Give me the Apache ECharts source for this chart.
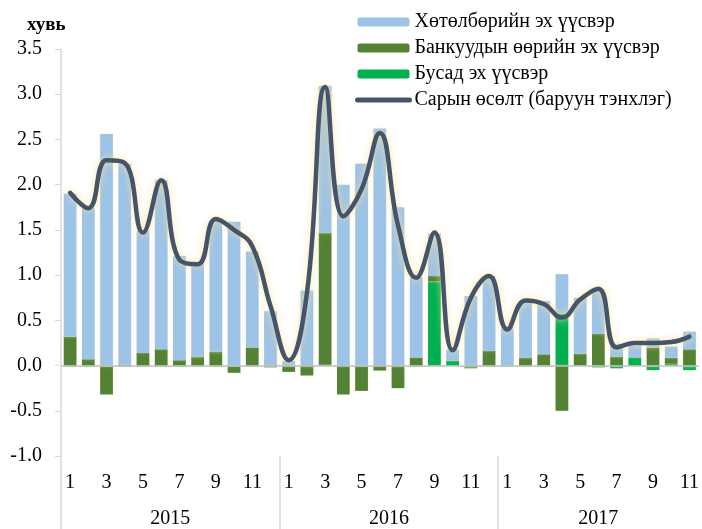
<!DOCTYPE html>
<html style="height: 100%">
<head>
<meta charset="utf-8">
<script src="https://cdn.jsdelivr.net/npm/echarts@6/dist/echarts.min.js"></script>
</head>
<body style="height: 100%; margin: 0; background: #fff">
<div id="container" style="width: 702px; height: 529px;"></div>
<script type="text/javascript">
// categories
var years = ['2015', '2016', '2017'];
var monthsPerYear = [12, 12, 11];

// series values (stack order: other, banks, program)
var otherSrc = [
  -0.01, -0.01, -0.01, -0.01, -0.01, -0.01, -0.01, -0.01, -0.01, -0.01, -0.01, -0.01,
  0, 0, 0.01, 0, -0.01, 0, 0, -0.01, 0.93, 0.055, -0.02, -0.01,
  -0.01, -0.01, -0.01, 0.57, 0, -0.02, -0.03, 0.09, -0.05, 0.02, -0.05
];
var bankSrc = [
  0.32, 0.07, -0.31, 0.01, 0.14, 0.18, 0.06, 0.10, 0.155, -0.07, 0.20, -0.01,
  -0.07, -0.11, 1.46, -0.32, -0.27, -0.055, -0.25, 0.09, 0.06, 0, -0.01, 0.16,
  0, 0.085, 0.125, -0.50, 0.13, 0.35, 0.10, 0, 0.20, 0.065, 0.18
];
var programSrc = [
  1.58, 1.67, 2.56, 2.22, 1.35, 1.87, 1.15, 1.04, 1.45, 1.59, 1.06, 0.60,
  0.05, 0.83, 1.62, 2.00, 2.23, 2.62, 1.75, 0.89, 0.47, 0.12, 0.77, 0.83,
  0.41, 0.63, 0.59, 0.44, 0.62, 0.49, 0.14, 0.13, 0.10, 0.125, 0.195
];
var monthlyGrowth = [
  1.91, 1.74, 2.27, 2.24, 1.47, 2.05, 1.17, 1.12, 1.62, 1.50, 1.32, 0.66,
  0.06, 0.80, 3.08, 1.65, 1.95, 2.57, 1.55, 0.97, 1.47, 0.17, 0.75, 0.99,
  0.40, 0.72, 0.68, 0.53, 0.73, 0.85, 0.20, 0.25, 0.25, 0.26, 0.32
];
var yTicks = { min: -1, max: 3.5, step: 0.5 };

var names = [
  'Хөтөлбөрийн эх үүсвэр',
  'Банкуудын өөрийн эх үүсвэр',
  'Бусад эх үүсвэр',
  'Сарын өсөлт (баруун тэнхлэг)'
];

var months = [];
var sepValues = [];
var yearCenters = [];
var acc = 0;
for (var y = 0; y < years.length; y++) {
  sepValues.push(acc);
  yearCenters.push(acc + monthsPerYear[y] / 2);
  for (var m = 1; m <= monthsPerYear[y]; m++) {
    months.push(String(m));
  }
  acc += monthsPerYear[y];
}

var font = 'Liberation Serif, Times New Roman, serif';
var chart = echarts.init(document.getElementById('container'));

var barGlow = { shadowColor: 'rgba(255, 236, 190, 0.7)', shadowBlur: 3 };

var option = {
  animation: false,
  title: {
    text: 'хувь',
    left: 22,
    top: 11,
    textStyle: { fontFamily: font, fontSize: 19, fontWeight: 'bold', color: '#000' }
  },
  legend: {
    orient: 'vertical',
    left: 350,
    top: 7,
    itemWidth: 52,
    itemHeight: 9,
    itemGap: 6,
    data: [
      names[0],
      names[1],
      names[2],
      {
        name: names[3],
        itemStyle: { opacity: 0 },
        lineStyle: { width: 5, color: '#44546a', cap: 'round' }
      }
    ],
    textStyle: { fontFamily: font, fontSize: 20, color: '#000' }
  },
  grid: { left: 61, right: -2, top: 49, bottom: 73 },
  xAxis: [
    {
      type: 'category',
      data: months,
      position: 'bottom',
      axisLine: { show: false },
      axisTick: { show: false },
      axisLabel: {
        interval: 1,
        margin: 17,
        fontFamily: font,
        fontSize: 20,
        color: '#000'
      }
    },
    {
      type: 'value',
      min: 0,
      max: months.length,
      position: 'bottom',
      axisLine: { show: false },
      splitLine: { show: false },
      axisTick: {
        show: true,
        customValues: sepValues,
        length: 73,
        lineStyle: { color: '#d9d9d9', width: 1.5 }
      },
      axisLabel: {
        customValues: yearCenters,
        margin: 53,
        fontFamily: font,
        fontSize: 20,
        color: '#000',
        formatter: function (v) {
          var i = yearCenters.indexOf(v);
          return i >= 0 ? years[i] : '';
        }
      }
    }
  ],
  yAxis: {
    type: 'value',
    min: yTicks.min,
    max: yTicks.max,
    interval: yTicks.step,
    axisLine: { show: true, lineStyle: { color: '#d9d9d9', width: 1.5 } },
    axisTick: { show: true, length: 6, lineStyle: { color: '#d9d9d9' } },
    splitLine: { show: false },
    axisLabel: {
      margin: 19,
      fontFamily: font,
      fontSize: 20,
      color: '#000',
      formatter: function (v) { return v.toFixed(1); }
    }
  },
  series: [
    {
      name: names[2],
      type: 'bar',
      stack: 'src',
      barCategoryGap: '30%',
      itemStyle: Object.assign({ color: '#00b050' }, barGlow),
      data: otherSrc
    },
    {
      name: names[1],
      type: 'bar',
      stack: 'src',
      itemStyle: Object.assign({ color: '#548235' }, barGlow),
      data: bankSrc
    },
    {
      name: names[0],
      type: 'bar',
      stack: 'src',
      itemStyle: Object.assign({ color: '#9dc3e6' }, barGlow),
      data: programSrc,
      markLine: {
        silent: true,
        symbol: 'none',
        label: { show: false },
        lineStyle: { color: '#bfbfbf', type: 'solid', width: 1.5 },
        data: [{ yAxis: 0 }]
      }
    },
    {
      name: names[3],
      type: 'line',
      smooth: 0.45,
      symbol: 'none',
      showSymbol: false,
      z: 5,
      itemStyle: { color: '#44546a' },
      lineStyle: {
        color: '#44546a',
        width: 4.5,
        cap: 'round',
        shadowColor: 'rgba(255, 225, 150, 0.9)',
        shadowBlur: 7
      },
      data: monthlyGrowth
    }
  ]
};

chart.setOption(option);
</script>
</body>
</html>
